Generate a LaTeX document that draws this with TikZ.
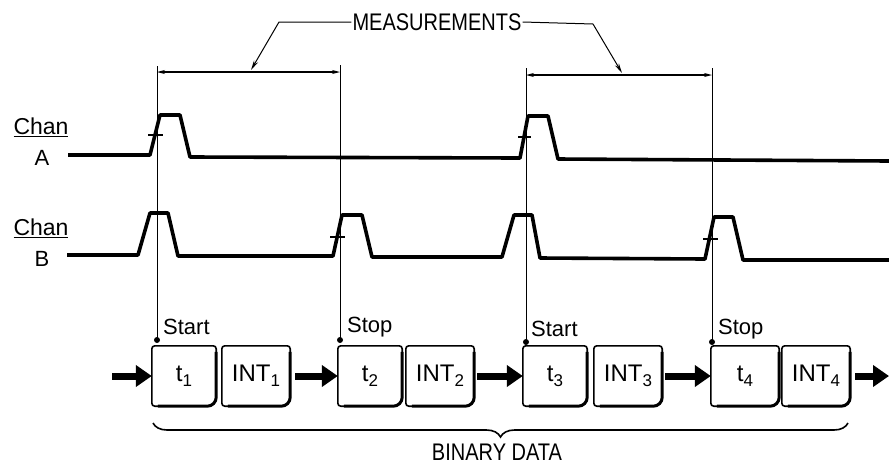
\documentclass[tikz,border=0pt]{standalone}
\usepackage{fontspec}
\setmainfont{Liberation Sans}
\usetikzlibrary{arrows.meta,positioning,calc,decorations.pathreplacing}
\newcommand{\lowsub}[1]{\raisebox{-5pt}{\fontsize{17}{17}\selectfont #1}}

\begin{document}
\begin{tikzpicture}[x=1pt, y=-1pt,
    sig/.style={line width=3.6pt, line join=round},
    vline/.style={line width=0.9pt},
    dimline/.style={line width=1.2pt, {Stealth[length=8pt,width=4pt]}-{Stealth[length=8pt,width=4pt]}},
    leader/.style={line width=1pt, -{Stealth[length=10pt,width=4.5pt]}},
    cell/.style={minimum width=64pt, minimum height=60pt, inner sep=0pt, font=\fontsize{24}{26}\selectfont},
    bigarrow/.style={line width=7pt, -{Triangle[length=16pt,width=21pt]}},
    lbl/.style={font=\fontsize{22}{24}\selectfont, inner sep=1pt}
]
\useasboundingbox (0,0) rectangle (889,467);

% channel labels
\node[lbl, font=\fontsize{23}{25}\selectfont] (chanA) at (41,127) {\underline{Chan}};
\node[lbl] (labA) at (42,158) {A};
\node[lbl, font=\fontsize{23}{25}\selectfont] (chanB) at (41,228) {\underline{Chan}};
\node[lbl] (labB) at (42,259) {B};

% signals
\draw[sig] (68,155) -- (150,155) -- (160,115) -- (180,115) -- (190,157) -- (520,158)
    -- (528,116) -- (548,116) -- (558,159) -- (889,161);
\draw[sig] (67,255) -- (138,255) -- (150,213) -- (168,213) -- (178,256) -- (333,256)
    -- (342,215) -- (362,215) -- (372,257) -- (502,257) -- (514,215) -- (532,215)
    -- (540,258) -- (705,259) -- (714,217) -- (733,217) -- (743,260) -- (889,260);

% trigger ticks
\draw[line width=1.3pt] (148,135) -- (163,135);
\draw[line width=1.3pt] (330,237) -- (345,237);
\draw[line width=1.3pt] (518,137) -- (531,137);
\draw[line width=1.3pt] (703,239) -- (718,239);

% time marks
\coordinate (top1) at (157,66);  \coordinate (d1) at (157,340);
\coordinate (top2) at (340,65);  \coordinate (d2) at (340,340);
\coordinate (top3) at (526,68);  \coordinate (d3) at (526,342);
\coordinate (top4) at (712,68);  \coordinate (d4) at (712,342);
\foreach \i in {1,...,4}{
    \draw[vline] (top\i) -- (d\i);
    \fill (d\i) circle (3pt);
}
\draw[dimline] (157,72) -- (340,72);
\draw[dimline] (526,75) -- (712,75);

\node[lbl, font=\fontsize{20}{22}\selectfont] (meas) at (437,22) {\scalebox{1}[1.2]{MEASUREMENTS}};
\draw[leader] (meas.west) -- (279,22) -- (251,70);
\draw[leader] (meas.east) -- (593,24) -- (622,73);

\node[lbl, anchor=west] (start1) at (162,327) {Start};
\node[lbl, anchor=west] (stop1) at (346,327) {Stop};
\node[lbl, anchor=west] (start2) at (530,329) {Start};
\node[lbl, anchor=west] (stop2) at (717,329) {Stop};

% data blocks
\node[cell] (t1) at (184,376) {t\lowsub{1}};
\node[cell, minimum width=68pt] (int1) at (256,376) {INT\lowsub{1}};
\node[cell] (t2) at (370,376) {t\lowsub{2}};
\node[cell, minimum width=68pt] (int2) at (440,376) {INT\lowsub{2}};
\node[cell] (t3) at (555,376) {t\lowsub{3}};
\node[cell, minimum width=68pt] (int3) at (628,376) {INT\lowsub{3}};
\node[cell, minimum width=68pt] (t4) at (745,376) {t\lowsub{4}};
\node[cell, minimum width=68pt] (int4) at (816,376) {INT\lowsub{4}};
\foreach \b in {t1,int1,t2,int2,t3,int3,t4,int4}{
    \draw[line width=1.6pt, rounded corners=3pt] ([yshift=-6pt]\b.north east) |- (\b.north west) |- ([xshift=6pt]\b.south west);
    \draw[line width=3pt, rounded corners=9pt] ([yshift=-6pt]\b.north east) |- ([xshift=6pt]\b.south west);
}

\coordinate (in) at (112,376);
\coordinate (out) at (889,376);
\draw[bigarrow] (in) -- (t1.west);
\draw[bigarrow, shorten <=5pt] (int1.east) -- (t2.west);
\draw[bigarrow, shorten <=3pt] (int2.east) -- (t3.west);
\draw[bigarrow, shorten <=3pt] (int3.east) -- (t4.west);
\draw[bigarrow, shorten <=5pt] (int4.east) -- (out);

\draw[line width=1.6pt, decorate, decoration={brace, amplitude=14pt, mirror}] (153,423) -- (848,423);
\node[lbl, font=\fontsize{20}{22}\selectfont] (bin) at (497,452) {\scalebox{1}[1.2]{BINARY DATA}};

\end{tikzpicture}
\end{document}
